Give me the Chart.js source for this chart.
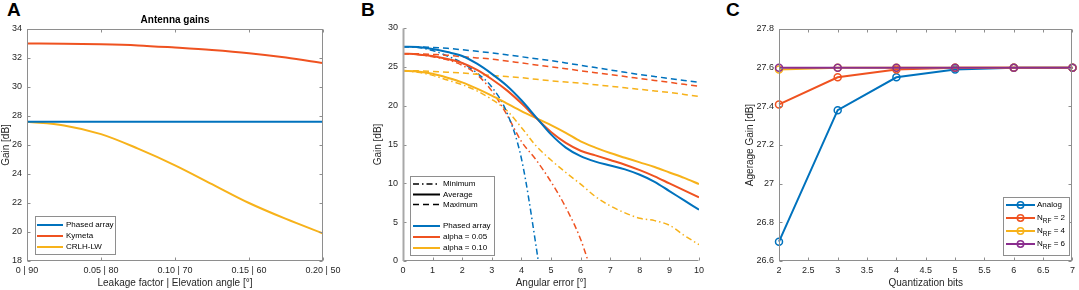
<!DOCTYPE html>
<html><head><meta charset="utf-8">
<script src="https://cdn.jsdelivr.net/npm/chart.js@4/dist/chart.umd.min.js"></script>
<style>
html,body{margin:0;padding:0;background:#fff;width:1079px;height:290px;overflow:hidden;}
.wrap{position:absolute;top:0;height:290px;}
.letter{position:absolute;top:-1px;font:bold 19px "Liberation Sans",Arial,sans-serif;color:#000;}
canvas{display:block;}
</style></head><body>
<div class="letter" style="left:7px">A</div>
<div class="letter" style="left:361px">B</div>
<div class="letter" style="left:726px">C</div>
<div class="wrap" style="left:0;width:350px"><canvas id="cA" width="350" height="290"></canvas></div>
<div class="wrap" style="left:372px;width:343px"><canvas id="cB" width="343" height="290"></canvas></div>
<div class="wrap" style="left:744px;width:335px"><canvas id="cC" width="335" height="290"></canvas></div>
<script>
// ---------- Panel A data ----------
const leakFactor = [0, 0.025, 0.05, 0.075, 0.10, 0.125, 0.15, 0.175, 0.20];
const leakTicks = [0, 0.05, 0.10, 0.15, 0.20];
const leakTickLabels = ['0 | 90', '0.05 | 80', '0.10 | 70', '0.15 | 60', '0.20 | 50'];
const gainPhased = [27.6, 27.6, 27.6, 27.6, 27.6, 27.6, 27.6, 27.6, 27.6];
const gainKymeta = [33.0, 32.99, 32.95, 32.87, 32.72, 32.55, 32.33, 32.03, 31.65];
const gainCrlh = [27.6, 27.35, 26.75, 25.75, 24.6, 23.3, 22.0, 20.9, 19.9];
const gainTicksA = [18, 20, 22, 24, 26, 28, 30, 32, 34];

// ---------- Panel B data ----------
const angErr = [0, 0.5, 1, 1.5, 2, 2.5, 3, 3.5, 4, 4.5, 5, 5.5, 6, 6.5, 7, 7.5, 8, 8.5, 9, 9.5, 10];
const paMin = [27.6, 27.5, 27.1, 26.4, 25.5, 24.2, 22.4, 19.2, 13.2, 1.8, -12, null, null, null, null, null, null, null, null, null, null];
const paAvg = [27.6, 27.55, 27.3, 26.9, 26.4, 25.4, 24.1, 22.6, 20.7, 18.5, 16.3, 14.6, 13.5, 12.8, 12.3, 11.8, 11.1, 10.2, 9.0, 7.8, 6.6];
const paMax = [27.6, 27.58, 27.5, 27.38, 27.2, 27.0, 26.8, 26.55, 26.3, 26.05, 25.8, 25.5, 25.2, 24.9, 24.6, 24.3, 24.0, 23.75, 23.5, 23.25, 23.0];
const a05Min = [26.7, 26.6, 26.3, 25.9, 25.2, 24.0, 21.9, 18.9, 15.4, 13.0, 10.2, 6.9, 2.8, -3, null, null, null, null, null, null, null];
const a05Avg = [26.7, 26.6, 26.4, 26.0, 25.5, 24.6, 23.4, 22.0, 20.3, 18.4, 16.6, 15.2, 14.2, 13.6, 13.0, 12.4, 11.7, 10.9, 10.0, 9.1, 8.2];
const a05Max = [26.7, 26.68, 26.6, 26.5, 26.3, 26.15, 26.0, 25.75, 25.5, 25.25, 25.0, 24.75, 24.5, 24.25, 24.0, 23.75, 23.5, 23.25, 23.0, 22.75, 22.5];
const a10Min = [24.5, 24.3, 23.9, 23.3, 22.7, 21.9, 20.8, 19.4, 17.2, 14.8, 13.0, 11.4, 9.9, 8.3, 7.1, 6.2, 5.5, 5.2, 4.6, 3.3, 2.1];
const a10Avg = [24.5, 24.4, 24.1, 23.6, 23.0, 22.2, 21.3, 20.3, 19.3, 18.4, 17.5, 16.5, 15.4, 14.6, 13.9, 13.3, 12.7, 12.1, 11.4, 10.7, 9.9];
const a10Max = [24.5, 24.48, 24.4, 24.3, 24.2, 24.05, 23.9, 23.75, 23.6, 23.4, 23.2, 23.05, 22.9, 22.7, 22.5, 22.3, 22.1, 21.9, 21.7, 21.45, 21.2];
const angTicks = [0, 1, 2, 3, 4, 5, 6, 7, 8, 9, 10];
const gainTicksB = [0, 5, 10, 15, 20, 25, 30];

// ---------- Panel C data ----------
const qBits = [2, 3, 4, 5, 6, 7];
const gAnalog = [26.70, 27.38, 27.55, 27.59, 27.60, 27.60];
const gNrf2 = [27.41, 27.55, 27.59, 27.60, 27.60, 27.60];
const gNrf4 = [27.59, 27.60, 27.60, 27.60, 27.60, 27.60];
const gNrf6 = [27.60, 27.60, 27.60, 27.60, 27.60, 27.60];
const bitTicks = [2, 2.5, 3, 3.5, 4, 4.5, 5, 5.5, 6, 6.5, 7];
const avgGainTicks = [26.6, 26.8, 27.0, 27.2, 27.4, 27.6, 27.8];
const avgGainTickLabels = ['26.6', '26.8', '27', '27.2', '27.4', '27.6', '27.8'];

// ---------- styling ----------
const FONT = '"Liberation Sans", Arial, Helvetica, sans-serif';
const BLUE = '#0072BD', RED = '#EF5220', YEL = '#F7B21A', PUR = '#8A2E8E';
const DASH = [6, 4], DASHDOT = [6, 3, 1.5, 3];
Chart.defaults.font.family = FONT;
Chart.defaults.color = '#262626';
Chart.defaults.animation = false;

const xy = (xs, ys) => xs.map((x, i) => ({x, y: ys[i]}));

const axesPlugin = {
  id: 'mAxes',
  afterDatasetsDraw(chart, args, o) {
    const {ctx, chartArea: a, scales} = chart;
    const L = Math.round(a.left) + 0.5, R = Math.round(a.right) - 0.5;
    const T = Math.round(a.top) + 0.5, B = Math.round(a.bottom) - 0.5;
    ctx.save();
    ctx.strokeStyle = '#8e8e8e';
    ctx.lineWidth = 1;
    ctx.setLineDash([]);
    const tl = 3;
    ctx.beginPath();
    scales.x.ticks.forEach(t => {
      const px = Math.round(scales.x.getPixelForValue(t.value)) + 0.5;
      ctx.moveTo(px, B); ctx.lineTo(px, B - tl);
      if (o.box) { ctx.moveTo(px, T); ctx.lineTo(px, T + tl); }
    });
    scales.y.ticks.forEach(t => {
      const py = Math.round(scales.y.getPixelForValue(t.value)) + 0.5;
      ctx.moveTo(L, py); ctx.lineTo(L + tl, py);
      if (o.box) { ctx.moveTo(R, py); ctx.lineTo(R - tl, py); }
    });
    ctx.stroke();
    if (o.box) {
      ctx.strokeRect(L, T, R - L, B - T);
    } else {
      ctx.beginPath(); ctx.moveTo(L, B); ctx.lineTo(R, B); ctx.stroke();
      ctx.strokeStyle = '#a8a8a8'; ctx.lineWidth = 2;
      ctx.beginPath(); ctx.moveTo(L, T); ctx.lineTo(L, B + 0.5); ctx.stroke();
    }
    if (o.title) {
      ctx.fillStyle = '#000';
      ctx.font = 'bold 10px ' + FONT;
      ctx.textAlign = 'center'; ctx.textBaseline = 'middle';
      ctx.fillText(o.title, (a.left + a.right) / 2, o.titleY);
    }
    ctx.restore();
  },
  afterDraw(chart, args, o) {
    const lg = o.legend; if (!lg) return;
    const ctx = chart.ctx;
    ctx.save();
    ctx.fillStyle = '#fff';
    ctx.fillRect(lg.x, lg.y, lg.w, lg.h);
    ctx.strokeStyle = '#8e8e8e'; ctx.lineWidth = 1; ctx.setLineDash([]);
    ctx.strokeRect(lg.x + 0.5, lg.y + 0.5, lg.w, lg.h);
    lg.items.forEach(it => {
      ctx.strokeStyle = it.color; ctx.lineWidth = it.width || 2;
      ctx.setLineDash(it.dash || []);
      ctx.beginPath(); ctx.moveTo(lg.x1, it.y); ctx.lineTo(lg.x2, it.y); ctx.stroke();
      if (it.marker) {
        ctx.setLineDash([]); ctx.lineWidth = 1.5;
        ctx.beginPath(); ctx.arc((lg.x1 + lg.x2) / 2, it.y, 3.2, 0, Math.PI * 2); ctx.stroke();
      }
      ctx.fillStyle = '#000'; ctx.textAlign = 'left'; ctx.textBaseline = 'middle';
      ctx.font = '8px ' + FONT;
      let tx = lg.tx;
      if (it.sub) {
        ctx.fillText(it.label, tx, it.y); tx += ctx.measureText(it.label).width;
        ctx.font = '6.5px ' + FONT;
        ctx.fillText(it.sub, tx, it.y + 3.5); tx += ctx.measureText(it.sub).width;
        ctx.font = '8px ' + FONT;
        ctx.fillText(it.rest, tx, it.y);
      } else {
        ctx.fillText(it.label, tx, it.y);
      }
    });
    ctx.restore();
  }
};

function scaleX(min, max, ticks, labels, title, h) {
  return {
    type: 'linear', min, max,
    grid: {display: false, drawTicks: false}, border: {display: false},
    afterBuildTicks: s => { s.ticks = ticks.map(v => ({value: v})); },
    afterFit: s => { s.height = h; },
    ticks: {font: {size: 9}, padding: 4, maxRotation: 0, autoSkip: false,
      callback: (v, i) => labels ? labels[i] : String(ticks[i])},
    title: {display: true, text: title, font: {size: 10}, padding: {top: 0, bottom: 1}, color: '#262626'}
  };
}
function scaleY(min, max, ticks, labels, title, w) {
  return {
    type: 'linear', min, max,
    grid: {display: false, drawTicks: false}, border: {display: false},
    afterBuildTicks: s => { s.ticks = ticks.map(v => ({value: v})); },
    afterFit: s => { s.width = w; },
    ticks: {font: {size: 9}, padding: 5, autoSkip: false,
      callback: (v, i) => labels ? labels[i] : String(ticks[i])},
    title: {display: true, text: title, font: {size: 10}, padding: {top: 0, bottom: 0}, color: '#262626'}
  };
}
const baseOpts = (pad) => ({
  responsive: false, devicePixelRatio: 1, animation: false,
  layout: {padding: pad},
  plugins: {legend: {display: false}, tooltip: {enabled: false}},
  elements: {point: {radius: 0}}
});

// ---------- Panel A ----------
const optA = baseOpts({left: 0, right: 27, top: 29, bottom: 0});
optA.scales = {
  x: scaleX(0, 0.2, leakTicks, leakTickLabels, 'Leakage factor | Elevation angle [°]', 29),
  y: scaleY(18, 34, gainTicksA, null, 'Gain [dB]', 27)
};
optA.plugins.mAxes = {box: true, title: 'Antenna gains', titleY: 20,
  legend: {x: 35, y: 216, w: 80, h: 38, x1: 37, x2: 63, tx: 66, items: [
    {label: 'Phased array', color: BLUE, y: 225},
    {label: 'Kymeta', color: RED, y: 236},
    {label: 'CRLH-LW', color: YEL, y: 247}
  ]}};
const lineA = (d, c) => ({data: xy(leakFactor, d), borderColor: c, borderWidth: 2, cubicInterpolationMode: 'monotone', fill: false});
new Chart(document.getElementById('cA'), {
  type: 'line',
  data: {datasets: [lineA(gainPhased, BLUE), lineA(gainKymeta, RED), lineA(gainCrlh, YEL)]},
  options: optA, plugins: [axesPlugin]
});

// ---------- Panel B ----------
const optB = baseOpts({left: 0, right: 16, top: 28, bottom: 0});
optB.scales = {
  x: scaleX(0, 10, angTicks, null, 'Angular error [°]', 29),
  y: scaleY(0, 30, gainTicksB, null, 'Gain [dB]', 31)
};
optB.plugins.mAxes = {box: false,
  legend: {x: 38, y: 176, w: 84, h: 79, x1: 41, x2: 68, tx: 71, items: [
    {label: 'Minimum', color: '#000', dash: DASHDOT, width: 1.5, y: 184},
    {label: 'Average', color: '#000', width: 2, y: 194.5},
    {label: 'Maximum', color: '#000', dash: DASH, width: 1.5, y: 204.5},
    {label: 'Phased array', color: BLUE, y: 226},
    {label: 'alpha = 0.05', color: RED, y: 237},
    {label: 'alpha = 0.10', color: YEL, y: 248}
  ]}};
const lineB = (d, c, dash, w) => ({data: xy(angErr, d), borderColor: c, borderWidth: w, borderDash: dash, cubicInterpolationMode: 'monotone', fill: false, spanGaps: false});
new Chart(document.getElementById('cB'), {
  type: 'line',
  data: {datasets: [
    lineB(paAvg, BLUE, [], 2), lineB(a05Avg, RED, [], 2), lineB(a10Avg, YEL, [], 2),
    lineB(paMax, BLUE, DASH, 1.5), lineB(a05Max, RED, DASH, 1.5), lineB(a10Max, YEL, DASH, 1.5),
    lineB(paMin, BLUE, DASHDOT, 1.5), lineB(a05Min, RED, DASHDOT, 1.5), lineB(a10Min, YEL, DASHDOT, 1.5)
  ]},
  options: optB, plugins: [axesPlugin]
});

// ---------- Panel C ----------
const optC = baseOpts({left: 0, right: 5, top: 29, bottom: 0});
optC.scales = {
  x: scaleX(2, 7, bitTicks, null, 'Quantization bits', 29),
  y: scaleY(26.6, 27.8, avgGainTicks, avgGainTickLabels, 'Agerage Gain [dB]', 35)
};
optC.plugins.mAxes = {box: true,
  legend: {x: 259, y: 197, w: 66, h: 58, x1: 262, x2: 291, tx: 293, items: [
    {label: 'Analog', color: BLUE, marker: true, y: 205},
    {label: 'N', sub: 'RF', rest: ' = 2', color: RED, marker: true, y: 218},
    {label: 'N', sub: 'RF', rest: ' = 4', color: YEL, marker: true, y: 231},
    {label: 'N', sub: 'RF', rest: ' = 6', color: PUR, marker: true, y: 244}
  ]}};
const lineC = (d, c, ord) => ({data: xy(qBits, d), borderColor: c, borderWidth: 2, order: ord, clip: false,
  pointRadius: 3.5, pointBorderWidth: 1.5, pointBorderColor: c, pointBackgroundColor: 'rgba(255,255,255,0)', fill: false});
new Chart(document.getElementById('cC'), {
  type: 'line',
  data: {datasets: [lineC(gAnalog, BLUE, 3), lineC(gNrf2, RED, 2), lineC(gNrf4, YEL, 1), lineC(gNrf6, PUR, 0)]},
  options: optC, plugins: [axesPlugin]
});
</script>
</body></html>
